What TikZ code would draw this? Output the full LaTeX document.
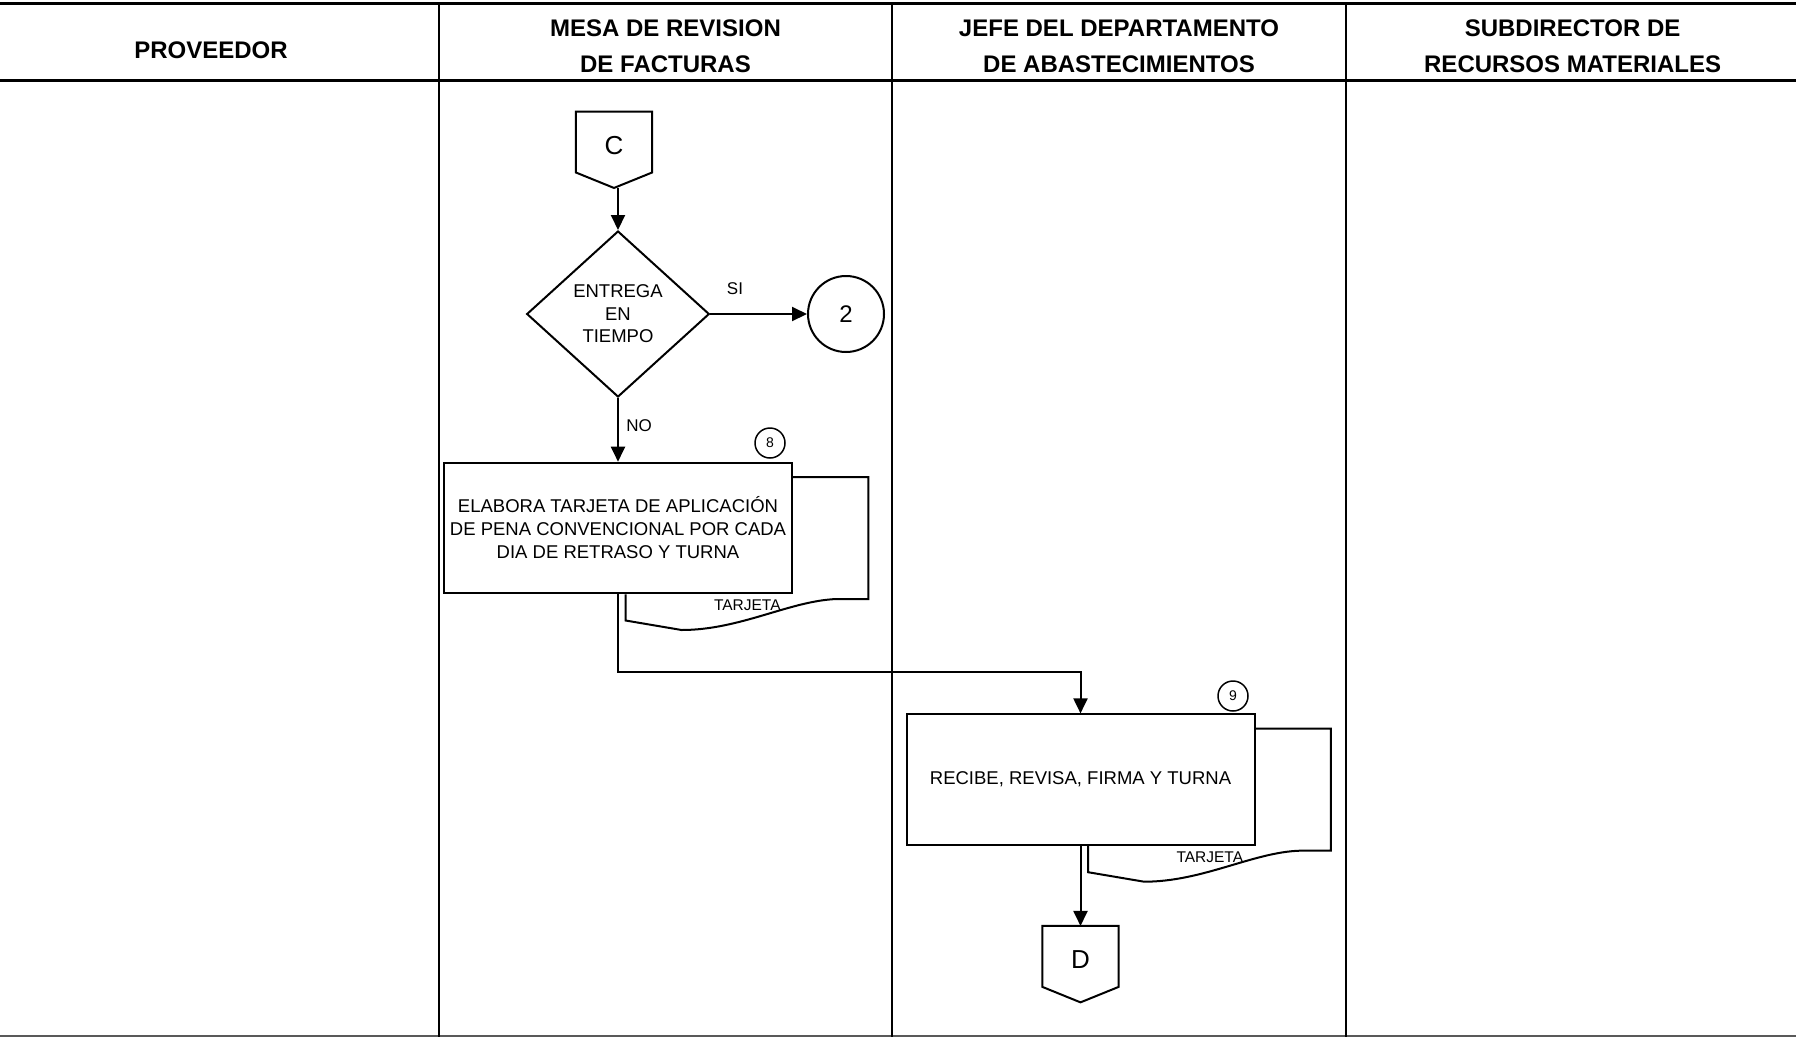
\documentclass[tikz,border=0pt]{standalone}
\usepackage{fontspec}
\setmainfont{Liberation Sans}
\usetikzlibrary{arrows.meta,shapes.geometric,calc}

% document symbol ("TARJETA") drawn behind the right side of a process box
% #1 = process box, #2 = name of the caption node
\newcommand\tarjetadoc[2]{%
  \draw[shp] ($(#1.north east)+(0,15.3)$) -- ($(#1.north east)+(75.4,15.3)$)
    -- ($(#1.south east)+(75.4,4.7)$) -- ($(#1.south east)+(44.1,4.7)$)
    .. controls ($(#1.south east)+(-2.6,6.2)$) and ($(#1.south east)+(-52.6,35.7)$)
    .. ($(#1.south west)+(238.6,35.7)$)
    -- ($(#1.south west)+(182.6,26.2)$) -- ($(#1.south west)+(182.6,0)$);
  \node[doclbl] (#2) at ($(#1.south east)+(-45.7,11)$) {TARJETA};
}

% off-page connector: square body with a pointed bottom
\newcommand\offpageoutline[1]{%
  \draw[shp] (#1.south west) -- (#1.north west) -- (#1.north east)
    -- (#1.south east) -- ($(#1.south)+(0,15.5)$) -- cycle;
}

\begin{document}
\begin{tikzpicture}[x=1pt,y=-1pt,
  every node/.style={font=\fontsize{18.5}{23}\selectfont},
  lane/.style={line width=2pt},
  rule/.style={line width=3pt},
  hdr/.style={font=\fontsize{24}{35.5}\selectfont\bfseries, align=center},
  shp/.style={draw, line width=2pt},
  stepbox/.style={shp, fill=white, minimum width=348pt, minimum height=130.6pt,
    inner sep=0pt, align=center},
  decision/.style={shp, diamond, minimum width=182.6pt, minimum height=166pt,
    inner sep=0pt, align=center, font=\fontsize{18.5}{22.4}\selectfont},
  conn/.style={shp, circle, minimum size=76pt, inner sep=0pt,
    font=\fontsize{24}{24}\selectfont},
  stepno/.style={draw, circle, line width=1.5pt, minimum size=30pt, inner sep=0pt,
    font=\fontsize{14}{14}\selectfont},
  offpage/.style={minimum width=76pt, minimum height=60.5pt, inner sep=0pt,
    text height=25pt, text depth=0pt, font=\fontsize{26}{26}\selectfont},
  flow/.style={line width=2pt, -{Triangle[length=15pt,width=14pt]}},
  edgelbl/.style={font=\fontsize{17}{17}\selectfont},
  doclbl/.style={font=\fontsize{15.5}{15.5}\selectfont},
]
\useasboundingbox (0,0) rectangle (1796,1037);

% swimlane frame
\draw[rule] (0,3) -- (1796,3);
\draw[rule] (0,80) -- (1796,80);
\draw[line width=2pt, black!65] (0,1035.5) -- (1796,1035.5);
\foreach \x in {438.7,892.3,1345.8}
  \draw[lane] (\x,2) -- (\x,1037);

% lane headings
\node[hdr] (h1) at (211,50.4) {PROVEEDOR};
\node[hdr] (h2) at (665.5,46.4) {MESA DE REVISION\\DE FACTURAS};
\node[hdr] (h3) at (1119,46.4) {JEFE DEL DEPARTAMENTO\\DE ABASTECIMIENTOS};
\node[hdr] (h4) at (1572.6,46.4) {SUBDIRECTOR DE\\RECURSOS MATERIALES};

% incoming connector C
\node[offpage] (C) at (614,142) {C};
\offpageoutline{C}
\coordinate (Cout) at (618,187.5);

% decision
\node[decision] (dec) at (618,314) {ENTREGA\\EN\\TIEMPO};
\draw[flow] (Cout) -- (dec.north);

\node[conn] (c2) at (846,314) {2};
\draw[flow] (dec.east) -- (c2.west);
\node[edgelbl] (si) at (735,289) {SI};

% step 8
\node[stepbox] (b8) at (618,528) {ELABORA TARJETA DE APLICACIÓN\\DE PENA CONVENCIONAL POR CADA\\DIA DE RETRASO Y TURNA};
\tarjetadoc{b8}{t8}
\node[stepno] (n8) at (770,443) {8};
\draw[flow] (dec.south) -- (b8.north);
\node[edgelbl] (no) at (639,426) {NO};

% step 9
\node[stepbox] (b9) at (1080.5,779.7) {RECIBE, REVISA, FIRMA Y TURNA};
\tarjetadoc{b9}{t9}
\node[stepno] (n9) at (1233,696) {9};
\draw[flow] (b8.south) -- ++(0,77.7) -| (b9.north);

% outgoing connector D
\node[offpage] (D) at (1080.5,956.4) {D};
\offpageoutline{D}
\draw[flow] (b9.south) -- (D.north);
\end{tikzpicture}
\end{document}
